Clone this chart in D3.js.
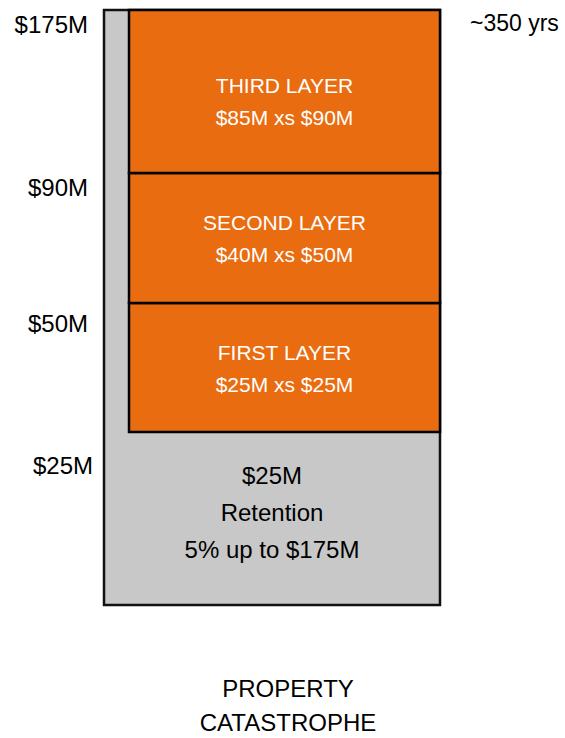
<!DOCTYPE html>
<html>
<head>
<meta charset="utf-8">
<script src="https://cdn.jsdelivr.net/npm/d3@7"></script>
<style>
  body { margin: 0; background: #fff; }
  text { font-family: "Liberation Sans", Arial, sans-serif; }
</style>
</head>
<body>
<svg id="chart" width="565" height="738"></svg>
<script>
// layer tower data ($M)
var layerNames = ["FIRST LAYER", "SECOND LAYER", "THIRD LAYER"];
var layerLimits = [25, 40, 85];
var layerAttach = [25, 50, 90];
var tickValues = [25, 50, 90, 175];
var tickLabels = ["$25M", "$50M", "$90M", "$175M"];
var retentionLines = ["$25M", "Retention", "5% up to $175M"];
var returnPeriod = "~350 yrs";
var towerName = ["PROPERTY", "CATASTROPHE"];

var svg = d3.select("#chart");

// tower is not drawn to a linear scale, so use a piecewise one
var ys = d3.scaleLinear()
    .domain([0, 25, 50, 90, 175])
    .range([605, 432, 303, 173, 10]);

var towerLeft = 104, layerLeft = 129, towerRight = 440;
var orange = "#e96c10", grey = "#c8c8c8";

// retention block (whole tower)
svg.append("rect")
    .attr("x", towerLeft)
    .attr("y", ys(175))
    .attr("width", towerRight - towerLeft)
    .attr("height", ys(0) - ys(175))
    .attr("fill", grey)
    .attr("stroke", "#111")
    .attr("stroke-width", 2.5);

var layers = layerNames.map(function(n, i) {
    return { name: n, limit: layerLimits[i], attach: layerAttach[i] };
});

var g = svg.selectAll(".layer")
    .data(layers)
    .enter()
    .append("g")
    .attr("class", "layer");

g.append("rect")
    .attr("x", layerLeft)
    .attr("y", function(d) { return ys(d.attach + d.limit); })
    .attr("width", towerRight - layerLeft)
    .attr("height", function(d) { return ys(d.attach) - ys(d.attach + d.limit); })
    .attr("fill", orange)
    .attr("stroke", "#000")
    .attr("stroke-width", 2.5);

var cx = (layerLeft + towerRight) / 2;
// the top layer's text sits a little low in the original
function mid(d) {
    var m = (ys(d.attach) + ys(d.attach + d.limit)) / 2;
    return d.attach >= 90 ? m + 9 : m;
}
g.append("text")
    .attr("x", cx)
    .attr("y", function(d) { return mid(d) - 8; })
    .attr("text-anchor", "middle")
    .attr("fill", "#fff")
    .style("font-size", "21px")
    .text(function(d) { return d.name; });

g.append("text")
    .attr("x", cx)
    .attr("y", function(d) { return mid(d) + 24; })
    .attr("text-anchor", "middle")
    .attr("fill", "#fff")
    .style("font-size", "21px")
    .text(function(d) { return "$" + d.limit + "M xs $" + d.attach + "M"; });

// retention text
svg.selectAll(".ret")
    .data(retentionLines)
    .enter()
    .append("text")
    .attr("class", "ret")
    .attr("x", (towerLeft + towerRight) / 2)
    .attr("y", function(d, i) { return ys(25) + 52 + i * 37; })
    .attr("text-anchor", "middle")
    .attr("fill", "#000")
    .style("font-size", "24px")
    .text(function(d) { return d; });

// attachment labels, pushed further below the line for the lower layers
svg.selectAll(".tick")
    .data(tickValues)
    .enter()
    .append("text")
    .attr("class", "tick")
    .attr("x", function(d) { return d == 25 ? 93 : 88; })
    .attr("y", function(d) { return ys(d) + 23 + (d <= 50 ? (d == 25 ? 19 : 6) : 0); })
    .attr("text-anchor", "end")
    .attr("fill", "#000")
    .style("font-size", "24px")
    .text(function(d, i) { return tickLabels[i]; });

svg.append("text")
    .attr("x", 470)
    .attr("y", ys(175) + 21)
    .attr("fill", "#000")
    .style("font-size", "23px")
    .text(returnPeriod);

svg.selectAll(".name")
    .data(towerName)
    .enter()
    .append("text")
    .attr("class", "name")
    .attr("x", 288)
    .attr("y", function(d, i) { return 697 + i * 34; })
    .attr("text-anchor", "middle")
    .attr("fill", "#000")
    .style("font-size", "24px")
    .text(function(d) { return d; });
</script>
</body>
</html>
